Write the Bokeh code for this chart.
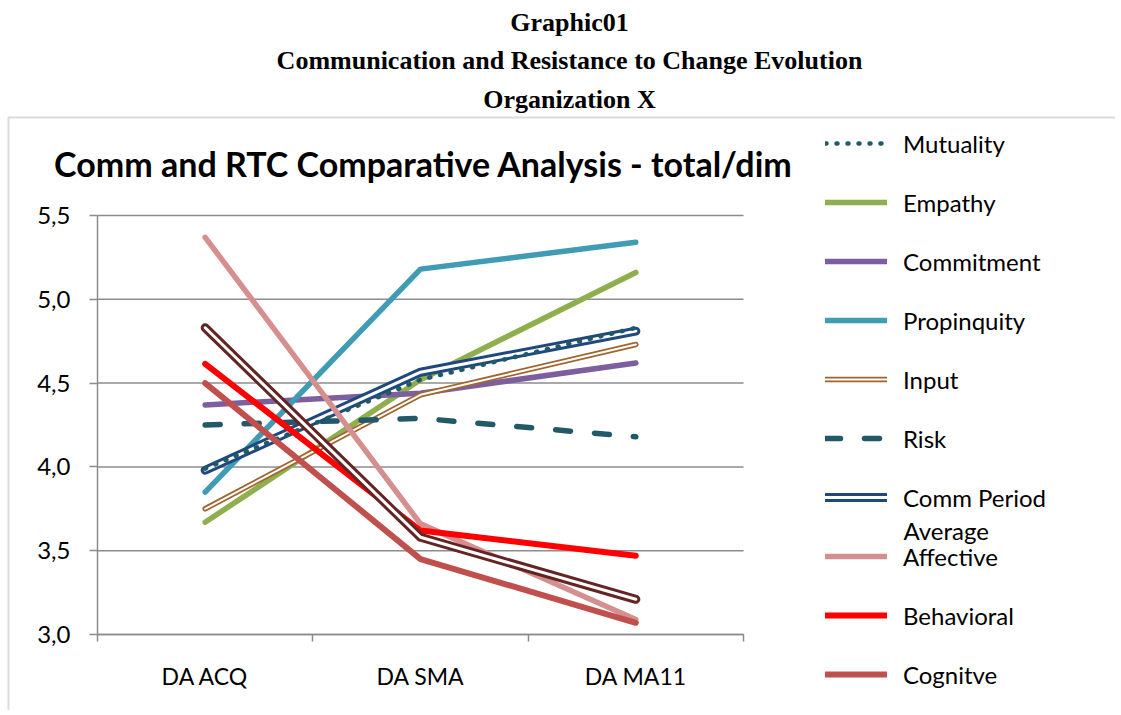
from bokeh.plotting import figure
from bokeh.models import (Label, Legend, LegendItem, FixedTicker, CustomJSTickFormatter,
                          Range1d, BoxAnnotation, LinearAxis)
from bokeh.embed import file_html
from bokeh.resources import INLINE

# ---------------- data ----------------
categories = ["DA ACQ", "DA SMA", "DA MA11"]
mutuality = [3.99, 4.52, 4.83]
empathy = [3.67, 4.52, 5.16]
commitment = [4.37, 4.44, 4.62]
propinquity = [3.85, 5.18, 5.34]
input_ = [3.75, 4.43, 4.73]
risk = [4.25, 4.29, 4.18]
comm_period_avg = [3.98, 4.565, 4.81]
affective = [5.37, 3.66, 3.09]
behavioral = [4.615, 3.62, 3.47]
cognitive = [4.50, 3.45, 3.07]
rtc_period_avg = [4.83, 3.58, 3.21]

y_ticks = [3.0, 3.5, 4.0, 4.5, 5.0, 5.5]

xs = [i + 0.5 for i in range(len(categories))]

# ---------------- layout ----------------
W, H = 1115, 710
FL, FR, FT, FB = 97, 743, 215, 634   # plot area edges in page pixels
x_per = (FR - FL) / 3.0
y_per = (FB - FT) / 2.5

def fx(px):  # page px -> data x
    return (px - FL) / x_per

def fy(py):  # page px -> data y
    return 5.5 - (py - FT) / y_per

p = figure(width=W, height=H, output_backend="svg", toolbar_location=None,
           x_range=Range1d(fx(0), fx(W)), y_range=Range1d(fy(H), fy(0)),
           x_axis_type=None, y_axis_type=None,
           min_border=0, min_border_left=0, min_border_right=0,
           min_border_top=0, min_border_bottom=0)
p.outline_line_color = None
p.background_fill_color = "white"
p.border_fill_color = "white"
p.grid.visible = False

GRAY = "#8c8c8c"
FONT = "Lato"

# horizontal gridlines spanning the category area only
n_cat = len(categories)
p.segment(x0=[0] * len(y_ticks), x1=[n_cat] * len(y_ticks), y0=y_ticks, y1=y_ticks,
          line_color=GRAY, line_width=1.5)

y_ticker = FixedTicker(ticks=y_ticks)
yaxis = LinearAxis(fixed_location=0, bounds=(y_ticks[0], y_ticks[-1]), ticker=y_ticker,
                   formatter=CustomJSTickFormatter(code="return tick.toFixed(1).replace('.', ',');"),
                   axis_line_color=GRAY, axis_line_width=1.5,
                   major_tick_line_color=GRAY, major_tick_line_width=1.5,
                   major_tick_out=8, major_tick_in=0, minor_tick_line_color=None,
                   major_label_standoff=19, major_label_text_font=FONT,
                   major_label_text_font_size="24px", major_label_text_color="black")
p.add_layout(yaxis, "left")

xaxis = LinearAxis(fixed_location=y_ticks[0], bounds=(0, n_cat),
                   ticker=FixedTicker(ticks=xs, minor_ticks=list(range(n_cat + 1))),
                   formatter=CustomJSTickFormatter(args=dict(labels=categories),
                                                   code="return labels[Math.floor(tick)];"),
                   axis_line_color=GRAY, axis_line_width=1.5,
                   major_tick_out=0, major_tick_in=0, major_tick_line_color=None,
                   minor_tick_out=7, minor_tick_in=0,
                   minor_tick_line_color=GRAY, minor_tick_line_width=1.5,
                   major_label_standoff=20, major_label_text_font=FONT,
                   major_label_text_font_size="23px", major_label_text_color="black")
p.add_layout(xaxis, "below")

# ---------------- series ----------------
r_emp = p.line(xs, empathy, line_color="#8FAF4E", line_width=5.5, line_cap="round")
r_com = p.line(xs, commitment, line_color="#7D5FA0", line_width=5.5, line_cap="round")
r_pro = p.line(xs, propinquity, line_color="#409BB4", line_width=5.5, line_cap="round")
r_in1 = p.line(xs, input_, line_color="#A0652E", line_width=5.5, line_cap="round", line_join="round")
r_in2 = p.line(xs, input_, line_color="white", line_width=2, line_cap="round", line_join="round")
r_risk = p.line(xs, risk, line_color="#215968", line_width=5.5, line_dash="15 24", line_cap="round")
r_cp1 = p.line(xs, comm_period_avg, line_color="#1F497D", line_width=9, line_cap="round", line_join="round")
r_cp2 = p.line(xs, comm_period_avg, line_color="white", line_width=3, line_cap="round", line_join="round")
r_mut = p.line(xs, mutuality, line_color="#215968", line_width=4.5, line_dash="1 10", line_cap="round")
r_aff = p.line(xs, affective, line_color="#D48F8E", line_width=5.5, line_cap="round")
r_beh = p.line(xs, behavioral, line_color="#FF0000", line_width=6, line_cap="round")
r_cog = p.line(xs, cognitive, line_color="#C0504D", line_width=6, line_cap="round")
r_rt1 = p.line(xs, rtc_period_avg, line_color="#632523", line_width=9, line_cap="round", line_join="round")
r_rt2 = p.line(xs, rtc_period_avg, line_color="white", line_width=3, line_cap="round", line_join="round")

items = [
    LegendItem(label="Mutuality", renderers=[r_mut]),
    LegendItem(label="Empathy", renderers=[r_emp]),
    LegendItem(label="Commitment", renderers=[r_com]),
    LegendItem(label="Propinquity", renderers=[r_pro]),
    LegendItem(label="Input", renderers=[r_in1, r_in2]),
    LegendItem(label="Risk", renderers=[r_risk]),
    LegendItem(label="Comm Period", renderers=[r_cp1, r_cp2]),
    LegendItem(label="Affective", renderers=[r_aff]),
    LegendItem(label="Behavioral", renderers=[r_beh]),
    LegendItem(label="Cognitve", renderers=[r_cog]),
]
legend = Legend(items=items, location=(825, H - 689),
                glyph_width=62, glyph_height=30, label_height=30, spacing=29,
                label_standoff=16, padding=0, margin=0,
                label_text_font=FONT, label_text_font_size="24px", label_text_color="black",
                border_line_color=None, background_fill_alpha=0)
p.add_layout(legend, "center")

p.add_layout(Label(x=fx(903), y=fy(530), text="Average", text_font=FONT,
                   text_font_size="24px", text_baseline="middle", text_color="black"))

# ---------------- titles ----------------
p.add_layout(Label(x=fx(423), y=fy(163), text="Comm and RTC Comparative Analysis - total/dim",
                   text_font=FONT, text_font_size="34px", text_font_style="bold",
                   text_align="center", text_baseline="middle", text_color="black"))
for txt, mid in [("Graphic01", 21.5), ("Communication and Resistance to Change Evolution", 60),
                 ("Organization X", 98.5)]:
    p.add_layout(Label(x=fx(569), y=fy(mid), text=txt, text_font="Liberation Serif",
                       text_font_size="26px", text_font_style="bold", text_align="center",
                       text_baseline="middle", text_color="black"))

# outer chart border
p.add_layout(BoxAnnotation(left=fx(8), right=fx(W + 50), top=fy(117), bottom=fy(H + 50),
                           fill_alpha=0, line_color="#878787", line_width=2))

open("out.html", "w").write(file_html(p, INLINE))
